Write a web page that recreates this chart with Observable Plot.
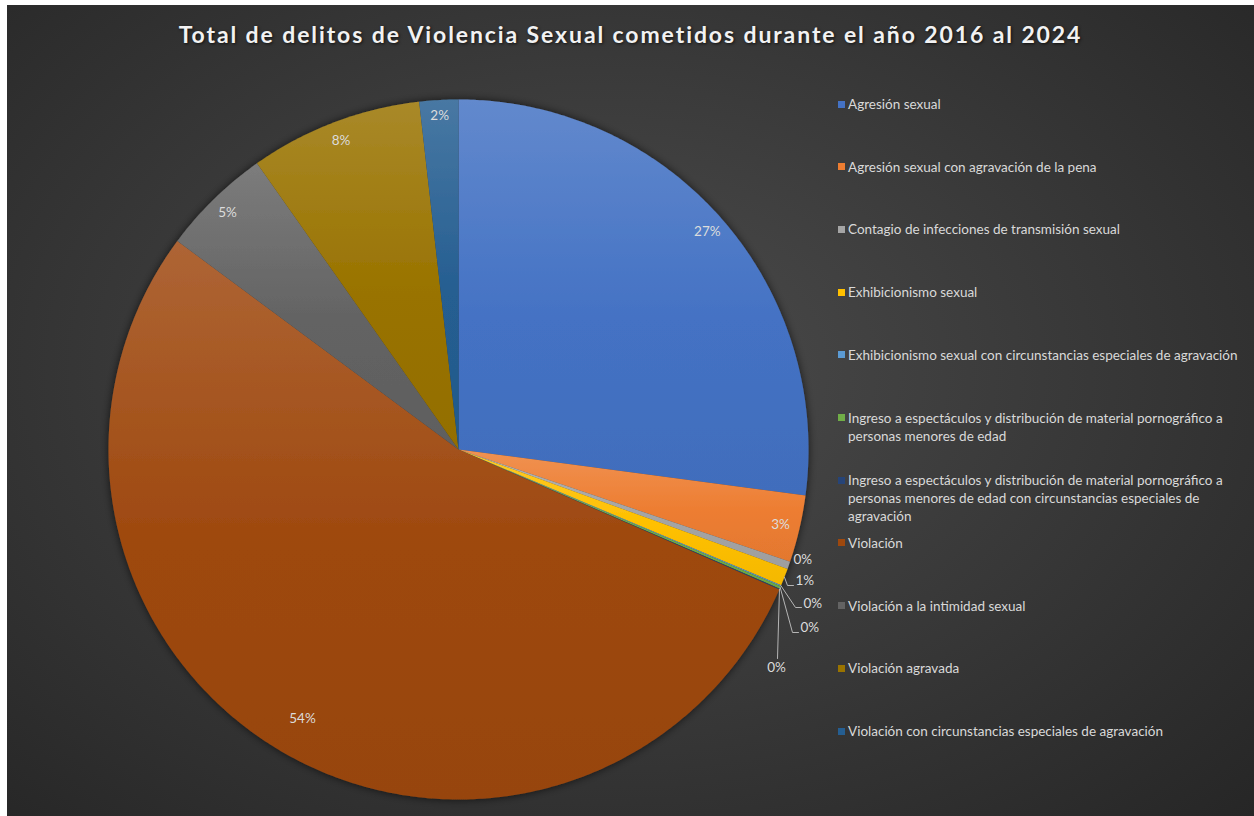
<!DOCTYPE html>
<html><head><meta charset="utf-8">
<script src="https://cdn.jsdelivr.net/npm/d3@7"></script>
<script src="https://cdn.jsdelivr.net/npm/@observablehq/plot@0.6"></script>
<style>
html,body{margin:0;padding:0;background:#fff;}
#chart{position:absolute;left:7px;top:5px;width:1247px;height:811px;overflow:hidden;
 background: radial-gradient(ellipse farthest-corner at 48% 45%, #4c4c4c 0%, #3b3b3b 45%, #262626 100%);
 font-family: Lato, "Open Sans", sans-serif;}
#title{position:absolute;left:0;top:15px;width:100%;text-align:center;color:#f2f2f2;font-family:Lato,sans-serif;font-weight:bold;font-size:23px;letter-spacing:1.9px;text-shadow:1px 1px 3px rgba(0,0,0,.7);}
#plot{position:absolute;left:0;top:55px;}
#legend{position:absolute;left:831px;top:0;}
.item{position:absolute;left:0;width:412px;font-size:13.5px;line-height:18px;color:#d9d9d9;padding-left:10px;box-sizing:border-box;}
.sw{position:absolute;left:0;top:5.5px;width:7px;height:7px;}
</style>
</head><body>
<div id="chart">
  <div id="title">Total de delitos de Violencia Sexual cometidos durante el año 2016 al 2024</div>
  <div id="plot"></div>
  <div id="legend"></div>
</div>
<script>
const categories = [
  "Agresión sexual",
  "Agresión sexual con agravación de la pena",
  "Contagio de infecciones de transmisión sexual",
  "Exhibicionismo sexual",
  "Exhibicionismo sexual con circunstancias especiales de agravación",
  "Ingreso a espectáculos y distribución de material pornográfico a personas menores de edad",
  "Ingreso a espectáculos y distribución de material pornográfico a personas menores de edad con circunstancias especiales de agravación",
  "Violación",
  "Violación a la intimidad sexual",
  "Violación agravada",
  "Violación con circunstancias especiales de agravación"
];
// estimated shares (percent of total)
const values = [27.2, 3.1, 0.35, 0.8, 0.05, 0.12, 0.04, 53.8, 5.1, 8.0, 1.8];
const colors = ["#4472C4","#ED7D31","#A5A5A5","#FFC000","#5B9BD5","#70AD47","#264478","#9E480E","#636363","#997300","#255E91"];

// layout constants
const W = 1247, H = 756, CX = 451, CY = 389, R = 350;
const insideR = [0.945, 0.945, null, null, null, null, null, 0.89, 0.945, 0.945, 0.955];
// outside labels: pixel offsets from centre (y down), anchor, leader elbow points
const outside = {
  2: {dx: 335, dy: 110, anchor: "start", leader: null},
  3: {dx: 337, dy: 131, anchor: "start", leader: [[329,136],[335,136]]},
  4: {dx: 345, dy: 154, anchor: "start", leader: [[337,158],[343,158]]},
  5: {dx: 342, dy: 178, anchor: "start", leader: [[334,183],[340,183]]},
  6: {dx: 318, dy: 218, anchor: "middle", leader: [[319,209]]}
};

const total = d3.sum(values);
const arcs = d3.pie().sort(null).value(d => d)(values);
const pct = v => Math.round(v / total * 100) + "%";

const slices = arcs.map((a, i) => {
  const n = Math.max(2, Math.ceil((a.endAngle - a.startAngle) / (Math.PI / 360)));
  const pts = [{x: 0, y: 0}];
  for (let k = 0; k <= n; k++) {
    const t = a.startAngle + (a.endAngle - a.startAngle) * k / n;
    pts.push({x: Math.sin(t), y: Math.cos(t)});
  }
  pts.push({x: 0, y: 0});
  return pts;
});

const inLabels = [], outStart = [], outMiddle = [], leaders = [];
arcs.forEach((a, i) => {
  const mid = (a.startAngle + a.endAngle) / 2;
  if (insideR[i] != null) {
    inLabels.push({x: insideR[i] * Math.sin(mid), y: insideR[i] * Math.cos(mid), text: pct(values[i])});
  } else {
    const o = outside[i];
    const lab = {x: o.dx / R, y: -o.dy / R, text: pct(values[i])};
    (o.anchor === "start" ? outStart : outMiddle).push(lab);
    if (o.leader) {
      leaders.push({id: i, x: Math.sin(mid), y: Math.cos(mid)});
      o.leader.forEach(([px, py]) => leaders.push({id: i, x: px / R, y: -py / R}));
    }
  }
});

const marks = slices.map((pts, i) =>
  Plot.line(pts, {x: "x", y: "y", fill: `url(#grad${i})`, stroke: "none", curve: "linear"})
);
marks.push(Plot.line(leaders, {x: "x", y: "y", z: "id", stroke: "#b5b5b5", strokeWidth: 1, curve: "linear"}));
const textStyle = {fill: "#dcdcdc", fontSize: 13.5, fontFamily: "Lato, sans-serif"};
marks.push(Plot.text(inLabels, {x: "x", y: "y", text: "text", ...textStyle}));
marks.push(Plot.text(outStart, {x: "x", y: "y", text: "text", textAnchor: "start", ...textStyle}));
marks.push(Plot.text(outMiddle, {x: "x", y: "y", text: "text", textAnchor: "middle", ...textStyle}));

const svg = Plot.plot({
  width: W, height: H,
  x: {domain: [-1, 1], range: [CX - R, CX + R], axis: null},
  y: {domain: [-1, 1], range: [CY + R, CY - R], axis: null},
  style: {background: "transparent", overflow: "visible"},
  marks
});

// gradients + shadow
const s = d3.select(svg);
const defs = s.insert("defs", ":first-child");
colors.forEach((c, i) => {
  const g = defs.append("linearGradient").attr("id", `grad${i}`).attr("x1", 0).attr("y1", 0).attr("x2", 0).attr("y2", 1);
  g.append("stop").attr("offset", "0%").attr("stop-color", d3.interpolateRgb(c, "#ffffff")(0.16));
  g.append("stop").attr("offset", "55%").attr("stop-color", c);
  g.append("stop").attr("offset", "100%").attr("stop-color", d3.color(c).darker(0.12).formatHex());
});
const f = defs.append("filter").attr("id", "shadow").attr("x", "-10%").attr("y", "-10%").attr("width", "120%").attr("height", "120%");
f.append("feDropShadow").attr("dx", 0).attr("dy", 0).attr("stdDeviation", 4).attr("flood-color", "#000").attr("flood-opacity", 0.65);
const sliceGroups = Array.from(svg.querySelectorAll('g[fill^="url(#grad"]'));
if (sliceGroups.length) {
  const wrap = document.createElementNS("http://www.w3.org/2000/svg", "g");
  wrap.setAttribute("filter", "url(#shadow)");
  sliceGroups[0].parentNode.insertBefore(wrap, sliceGroups[0]);
  sliceGroups.forEach(g => wrap.appendChild(g));
}
document.getElementById("plot").appendChild(svg);

// legend
const legend = d3.select("#legend");
categories.forEach((c, i) => {
  const it = legend.append("div").attr("class", "item").style("top", (90 + i * 62.7) + "px");
  it.append("div").attr("class", "sw").style("background", colors[i]);
  it.append("span").text(c);
});
</script>
</body></html>
